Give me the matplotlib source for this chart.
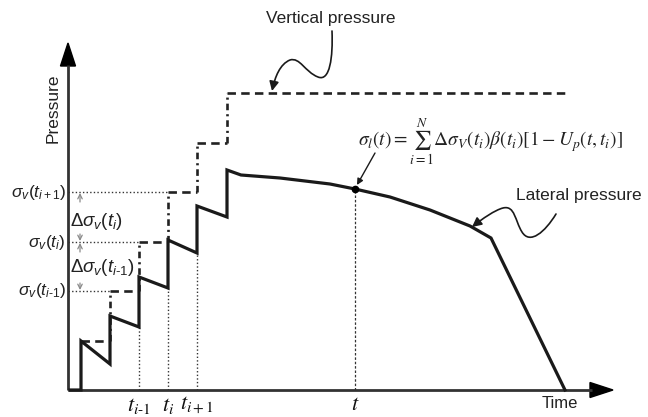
import matplotlib
matplotlib.use("Agg")
import matplotlib.pyplot as plt
from matplotlib.path import Path
from matplotlib.patches import FancyArrowPatch, Polygon

plt.rcParams['font.family'] = ['Liberation Sans', 'DejaVu Sans']
plt.rcParams['mathtext.fontset'] = 'custom'
plt.rcParams['mathtext.rm'] = 'Liberation Sans'
plt.rcParams['mathtext.it'] = 'Liberation Sans:italic'
plt.rcParams['mathtext.bf'] = 'Liberation Sans:bold'

# schematic data (time / pressure in diagram units)
lat_t = [70, 81, 81, 110, 110, 139, 139, 168, 168, 197, 197, 227, 227,
         241, 280, 330, 355, 390, 430, 470, 491, 565]
lat_p = [27, 27, 76, 53, 101, 90, 140, 129, 177, 164, 211, 200, 247,
         242, 239, 233, 228, 220, 207, 191, 179, 27]

step_t = [81, 110, 139, 168, 197, 227]
step_end = 567
vert_p = [76, 126, 175, 225, 274, 324]

t_marks = [139, 168, 197]
t_marks_low = [90, 129, 164]          # lateral pressure just before each load
t_labels = [r'$t_{i\text{-}1}$', r'$t_i$', r'$t_{i+1}$']

sig_levels = [225, 175, 126]
sig_ends = [168, 139, 110]
sig_labels = [r'$\sigma_v(t_{i+1})$', r'$\sigma_v(t_i)$', r'$\sigma_v(t_{i\text{-}1})$']

t_point, p_point = 355, 228
base_p = 27
x_axis0, x_axis1 = 68, 613
y_axis1 = 374

ink = '#222222'

fig = plt.figure(figsize=(6.48, 4.17), dpi=100)
ax = fig.add_axes([0, 0, 1, 1])
ax.set_xlim(0, 648)
ax.set_ylim(0, 417)
ax.axis('off')

# axes with arrow heads
ax.plot([x_axis0, 592], [base_p, base_p], color='#333333', lw=2.0, solid_capstyle='butt')
ax.plot([x_axis0, x_axis0], [base_p, 352], color='#333333', lw=2.0, solid_capstyle='butt')
ax.add_patch(Polygon([[590, base_p + 7.5], [x_axis1, base_p], [590, base_p - 7.5]],
                     closed=True, color='black'))
ax.add_patch(Polygon([[x_axis0 - 7.5, 351], [x_axis0, y_axis1], [x_axis0 + 7.5, 351]],
                     closed=True, color='black'))

# vertical pressure (dashed steps)
for i in range(len(step_t)):
    x1 = step_t[i + 1] if i + 1 < len(step_t) else step_end
    ax.plot([step_t[i], x1], [vert_p[i], vert_p[i]], color=ink, lw=1.9,
            linestyle=(0, (3.2, 2.0)), zorder=2)
    if i > 0:
        ax.plot([step_t[i], step_t[i]], [vert_p[i - 1], vert_p[i]], color=ink, lw=1.9,
                linestyle=(0, (2.5, 1.5, 0.8, 1.5)), zorder=2)

# guide lines
for lvl, xe, lab in zip(sig_levels, sig_ends, sig_labels):
    ax.plot([x_axis0, xe], [lvl, lvl], color='#333333', lw=1.0, linestyle=(0, (1, 1.6)), zorder=1)
    ax.text(66, lvl, lab, ha='right', va='center', fontsize=12.5, color=ink)
for tx, lo, lab in zip(t_marks, t_marks_low, t_labels):
    ax.plot([tx, tx], [base_p, lo], color='#333333', lw=1.0, linestyle=(0, (1, 1.6)), zorder=1)
    ax.text(tx, 12, lab, ha='center', va='center', fontsize=16, color='#111111',
            math_fontfamily='stix')
ax.plot([t_point, t_point], [base_p, p_point], color='#333333', lw=0.9,
        linestyle=(0, (2, 1.5)), zorder=1)
ax.text(t_point, 12, r'$t$', ha='center', va='center', fontsize=16, color='#111111',
        math_fontfamily='stix')

# delta labels with small gray arrows
ax.text(70, 196, r'$\mathit{\Delta}\sigma_v(t_i)$', ha='left', va='center', fontsize=13.5,
        color=ink)
ax.text(70, 149, r'$\mathit{\Delta}\sigma_v(t_{i\text{-}1})$', ha='left', va='center',
        fontsize=13.5, color=ink)
for top, bot in [(225, 175), (175, 126)]:
    for a, b in [(top - 10, top - 1), (bot + 8, bot + 1)]:
        ax.annotate('', xy=(80, b), xytext=(80, a),
                    arrowprops=dict(arrowstyle='->', color='#8a8a8a', lw=0.9,
                                    shrinkA=0, shrinkB=0, mutation_scale=8))

# lateral pressure
ax.plot(lat_t, lat_p, color='#1a1a1a', lw=2.3, solid_joinstyle='miter', zorder=3)
ax.plot([t_point], [p_point], 'o', color='black', ms=4.5, zorder=4)

# texts
ax.text(53, 309, 'Pressure', rotation=90, ha='center', va='center', fontsize=12.5, color=ink)
ax.text(560, 13, 'Time', ha='center', va='center', fontsize=12, color=ink)
ax.text(331, 399, 'Vertical pressure', ha='center', va='center', fontsize=12.5, color=ink)
ax.text(579, 222, 'Lateral pressure', ha='center', va='center', fontsize=12.5, color=ink)
ax.text(490, 275,
        r'$\sigma_l(t)=\sum_{i=1}^{N}\Delta\sigma_V(t_i)\beta(t_i)[1-U_p(t,t_i)]$',
        ha='center', va='center', fontsize=14, color=ink, math_fontfamily='stix')

# callout arrows
vp = Path([(332, 386), (333, 360), (330, 335), (318, 340),
           (305, 345), (300, 360), (290, 357),
           (280, 353), (275, 340), (272, 326)],
          [Path.MOVETO] + [Path.CURVE4] * 9)
ax.add_patch(FancyArrowPatch(path=vp, arrowstyle='-|>', color='#1a1a1a', lw=1.2,
                             mutation_scale=14))
lp = Path([(556, 203), (545, 185), (530, 172), (522, 185),
           (515, 196), (515, 212), (503, 209),
           (495, 207), (482, 198), (472, 190)],
          [Path.MOVETO] + [Path.CURVE4] * 9)
ax.add_patch(FancyArrowPatch(path=lp, arrowstyle='-|>', color='#1a1a1a', lw=1.2,
                             mutation_scale=14))
ax.add_patch(FancyArrowPatch((375, 264), (357, 232), arrowstyle='-|>', color='#1a1a1a',
                             lw=1.0, mutation_scale=9, shrinkA=0, shrinkB=0))

fig.savefig('out.png', dpi=100)
